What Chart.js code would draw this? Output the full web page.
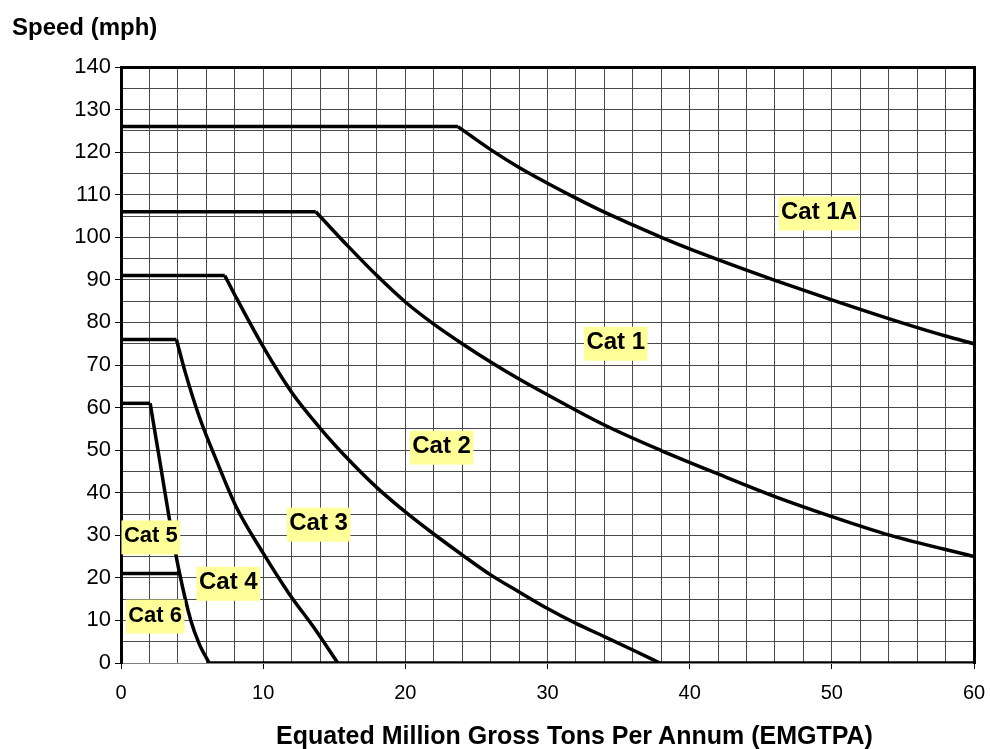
<!DOCTYPE html>
<html>
<head>
<meta charset="utf-8">
<title>Speed vs EMGTPA</title>
<script src="https://cdn.jsdelivr.net/npm/chart.js@4.4.1/dist/chart.umd.min.js"></script>
<style>
  html, body { margin: 0; padding: 0; background: #fff; }
  #wrap { position: relative; width: 990px; height: 749px; }
  #xtitle {
    position: absolute; left: 159px; width: 831px; top: 721px;
    text-align: center; color: #000;
    font: bold 25px "Liberation Sans", Arial, sans-serif;
  }
</style>
</head>
<body>
<div id="wrap">
  <canvas id="speedChart" width="990" height="749"></canvas>
  <div id="xtitle">Equated Million Gross Tons Per Annum (EMGTPA)</div>
</div>
<script>
// Curves: x = EMGTPA, y = speed (mph)
const cat1aX = [0, 23.7, 26, 28, 30, 32, 34, 36, 38, 40, 44, 46, 50, 54, 58, 60];
const cat1aY = [126, 126, 120.6, 116.4, 112.7, 109.2, 105.9, 102.9, 100, 97.3, 92.3, 89.9, 85.3, 80.9, 76.8, 75];

const cat1X = [0, 13.7, 16, 18, 20, 22, 24, 26, 28, 30, 34, 38, 42, 46, 50, 54, 60];
const cat1Y = [106, 106, 97.8, 91, 84.8, 79.6, 75, 70.7, 66.7, 63, 55.9, 49.9, 44.4, 39.1, 34.4, 30.1, 25];

const cat2X = [0, 7.3, 8, 10, 12, 14, 16, 18, 20, 22, 24, 26, 28, 30, 32, 34, 36, 37.9];
const cat2Y = [91, 91, 86.5, 74.3, 63.6, 55.2, 47.8, 41.2, 35.5, 30.3, 25.4, 20.7, 16.7, 12.8, 9.3, 6.2, 3.05, 0];

const cat3X = [0, 3.9, 4.5, 5.5, 6.7, 8.1, 10, 11.8, 13.7, 15.25];
const cat3Y = [76, 76, 68.5, 57.9, 47.7, 36.7, 25.8, 16.4, 7.7, 0];

// Cat 4/5 boundary, then running along zero to the right edge
const cat5X = [0, 2.05, 2.5, 2.85, 3.4, 4.1, 4.9, 5.5, 6.2, 60];
const cat5Y = [61, 61, 52, 45, 33.9, 21.4, 10.1, 4.5, 0, 0];

const cat6X = [0, 4.2];
const cat6Y = [21, 21];

// Category labels (placed in data units)
const labelText = ['Cat 1A', 'Cat 1', 'Cat 2', 'Cat 3', 'Cat 4', 'Cat 5', 'Cat 6'];
const labelX = [49.1, 34.8, 22.55, 13.9, 7.55, 2.1, 2.4];
const labelY = [105.6, 75.0, 50.6, 32.5, 18.6, 29.5, 10.9];

const fontFamily = '"Liberation Sans", Arial, sans-serif';

function toPoints(xs, ys) {
    return xs.map((x, i) => ({ x: x, y: ys[i] }));
}

function lineSet(points, smooth) {
    return {
        data: points,
        borderColor: '#000',
        borderWidth: 3.5,
        pointRadius: 0,
        tension: 0,
        cubicInterpolationMode: smooth ? 'monotone' : 'default',
        fill: false
    };
}

// flat part, curved part (knee -> zero), straight tail along zero
function category(xs, ys) {
    const pts = toPoints(xs, ys);
    if (pts.length <= 2) return [lineSet(pts, false)];
    let zero = ys.indexOf(0);
    if (zero < 0) zero = pts.length - 1;
    const sets = [lineSet(pts.slice(0, 2), false), lineSet(pts.slice(1, zero + 1), true)];
    if (zero < pts.length - 1) sets.push(lineSet(pts.slice(zero), false));
    return sets;
}

// Yellow label boxes
const catLabels = {
    id: 'catLabels',
    afterDatasetsDraw(chart) {
        const { ctx, scales } = chart;
        ctx.save();
        labelText.forEach((t, i) => {
            const size = (t === 'Cat 5' || t === 'Cat 6') ? 22 : 24;
            ctx.font = 'bold ' + size + 'px ' + fontFamily;
            const w = ctx.measureText(t).width + 5;
            const h = 34;
            const cx = scales.x.getPixelForValue(labelX[i]);
            const cy = scales.y.getPixelForValue(labelY[i]);
            ctx.fillStyle = '#FFFF99';
            ctx.fillRect(cx - w / 2, cy - h / 2, w, h);
            ctx.fillStyle = '#000';
            ctx.textAlign = 'center';
            ctx.textBaseline = 'middle';
            ctx.fillText(t, cx, cy - 1);
        });
        ctx.restore();
    }
};

const majorTick = (step) => (c) => (c.tick && c.tick.value % step === 0) ? '#000' : 'rgba(0,0,0,0)';

const ctx = document.getElementById('speedChart').getContext('2d');
new Chart(ctx, {
    type: 'line',
    data: {
        datasets: [].concat(
            category(cat1aX, cat1aY),
            category(cat1X, cat1Y),
            category(cat2X, cat2Y),
            category(cat3X, cat3Y),
            category(cat5X, cat5Y),
            category(cat6X, cat6Y)
        )
    },
    options: {
        responsive: false,
        animation: false,
        layout: { padding: { left: 12, right: 16, top: 0, bottom: 0 } },
        plugins: {
            legend: { display: false },
            tooltip: { enabled: false },
            title: {
                display: true,
                text: 'Speed (mph)',
                align: 'start',
                color: '#000',
                font: { family: fontFamily, size: 24, weight: 'bold' },
                padding: { top: 14, bottom: 24.2 }
            }
        },
        scales: {
            x: {
                type: 'linear',
                position: 'bottom',
                min: 0,
                max: 60,
                ticks: {
                    stepSize: 2,
                    autoSkip: false,
                    maxRotation: 0,
                    padding: 12,
                    color: '#000',
                    font: { family: fontFamily, size: 20 },
                    callback: (v) => v % 10 === 0 ? String(v) : ''
                },
                grid: { color: '#4a4a4a', lineWidth: 1, tickLength: 6, tickColor: majorTick(10) },
                border: { color: '#808080', width: 1 },
                afterFit: (s) => { s.height = 86; s.paddingLeft = 0; s.paddingRight = 0; }
            },
            y: {
                type: 'linear',
                position: 'left',
                min: 0,
                max: 140,
                ticks: {
                    stepSize: 5,
                    autoSkip: false,
                    padding: 4,
                    color: '#000',
                    font: { family: fontFamily, size: 22 },
                    callback: (v) => v % 10 === 0 ? String(v) : ''
                },
                grid: { color: '#4a4a4a', lineWidth: 1, tickLength: 6, tickColor: majorTick(10) },
                border: { color: '#000', width: 3 },
                afterFit: (s) => { s.width = 109; s.paddingTop = 0; s.paddingBottom = 0; }
            },
            x2: {
                type: 'linear',
                axis: 'x',
                position: 'top',
                min: 0,
                max: 60,
                ticks: { display: false },
                grid: { drawOnChartArea: false, drawTicks: false },
                border: { color: '#000', width: 3 },
                afterFit: (s) => { s.height = 0; }
            },
            y2: {
                type: 'linear',
                axis: 'y',
                position: 'right',
                min: 0,
                max: 140,
                ticks: { display: false },
                grid: { drawOnChartArea: false, drawTicks: false },
                border: { color: '#000', width: 3 },
                afterFit: (s) => { s.width = 0; }
            }
        }
    },
    plugins: [catLabels]
});
</script>
</body>
</html>
